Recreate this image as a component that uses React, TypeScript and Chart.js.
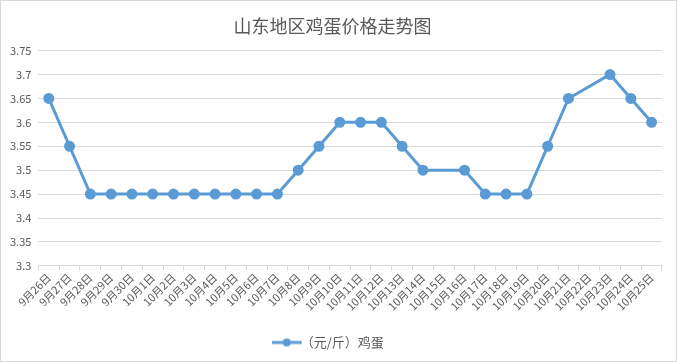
import React, { useEffect, useRef } from "react";
import { Chart, registerables } from "chart.js";

Chart.register(...registerables);

const title = "山东地区鸡蛋价格走势图";
const seriesName = "（元/斤）鸡蛋";
const categories = [
  "9月26日", "9月27日", "9月28日", "9月29日", "9月30日",
  "10月1日", "10月2日", "10月3日", "10月4日", "10月5日", "10月6日", "10月7日",
  "10月8日", "10月9日", "10月10日", "10月11日", "10月12日", "10月13日", "10月14日",
  "10月15日", "10月16日", "10月17日", "10月18日", "10月19日", "10月20日", "10月21日",
  "10月22日", "10月23日", "10月24日", "10月25日",
];
const prices: (number | null)[] = [
  3.65, 3.55, 3.45, 3.45, 3.45,
  3.45, 3.45, 3.45, 3.45, 3.45, 3.45, 3.45,
  3.5, 3.55, 3.6, 3.6, 3.6, 3.55, 3.5,
  null, 3.5, 3.45, 3.45, 3.45, 3.55, 3.65,
  null, 3.7, 3.65, 3.6,
];
const yMin = 3.3;
const yMax = 3.75;
const yStep = 0.05;

const BLUE = "#5b9bd5";
const TEXT = "#595959";
const GRID = "#d9d9d9";
const FONT = "'Noto Sans CJK SC', 'Noto Sans', sans-serif";

function legendIcon(): HTMLCanvasElement {
  const c = document.createElement("canvas");
  c.width = 32;
  c.height = 10;
  const ctx = c.getContext("2d")!;
  ctx.strokeStyle = BLUE;
  ctx.lineWidth = 3;
  ctx.beginPath();
  ctx.moveTo(0, 5);
  ctx.lineTo(30, 5);
  ctx.stroke();
  ctx.fillStyle = BLUE;
  ctx.beginPath();
  ctx.arc(15, 5, 4, 0, Math.PI * 2);
  ctx.fill();
  return c;
}

export default function App() {
  const ref = useRef<HTMLCanvasElement>(null);
  useEffect(() => {
    document.body.style.margin = "0";
    const icon = legendIcon();
    const chart = new Chart(ref.current!, {
      type: "line",
      data: {
        labels: categories,
        datasets: [
          {
            label: seriesName,
            data: prices,
            borderColor: BLUE,
            backgroundColor: BLUE,
            borderWidth: 3,
            pointRadius: 4,
            pointBackgroundColor: BLUE,
            pointBorderColor: BLUE,
            spanGaps: true,
            tension: 0,
          },
        ],
      },
      options: {
        responsive: false,
        animation: false,
        layout: { padding: { left: 2, right: 14, top: 4, bottom: 2 } },
        plugins: {
          title: {
            display: true,
            text: title,
            color: TEXT,
            font: { family: FONT, size: 18, weight: "normal" },
            padding: { top: 10, bottom: 14 },
          },
          legend: {
            position: "bottom",
            labels: {
              color: TEXT,
              font: { family: FONT, size: 13 },
              usePointStyle: true,
              generateLabels: (ch: any) =>
                ch.data.datasets.map((ds: any, i: number) => ({
                  text: ds.label,
                  fillStyle: BLUE,
                  strokeStyle: BLUE,
                  fontColor: TEXT,
                  pointStyle: icon,
                  datasetIndex: i,
                  hidden: false,
                })),
            },
          },
          tooltip: { enabled: false },
        },
        scales: {
          x: {
            offset: true,
            afterFit: (scale: any) => {
              scale.height += 13;
            },
            grid: {
              display: true,
              drawOnChartArea: false,
              drawTicks: true,
              tickLength: 5,
              color: GRID,
              offset: true,
            },
            border: { display: true, color: GRID },
            ticks: {
              color: TEXT,
              font: { family: FONT, size: 11 },
              maxRotation: 45,
              minRotation: 45,
              autoSkip: false,
              padding: 0,
            },
          },
          y: {
            min: yMin,
            max: yMax,
            grid: { color: GRID, drawTicks: false },
            border: { display: false },
            ticks: {
              stepSize: yStep,
              color: TEXT,
              font: { family: FONT, size: 11 },
              padding: 7,
              callback: (v: any) => String(Number(Number(v).toFixed(2))),
            },
          },
        },
      },
    });
    return () => chart.destroy();
  }, []);
  return (
    <div
      style={{
        width: 677,
        height: 362,
        boxSizing: "border-box",
        border: "1px solid #d9d9d9",
        background: "#fff",
      }}
    >
      <canvas ref={ref} width={675} height={360} style={{ display: "block" }} />
    </div>
  );
}
